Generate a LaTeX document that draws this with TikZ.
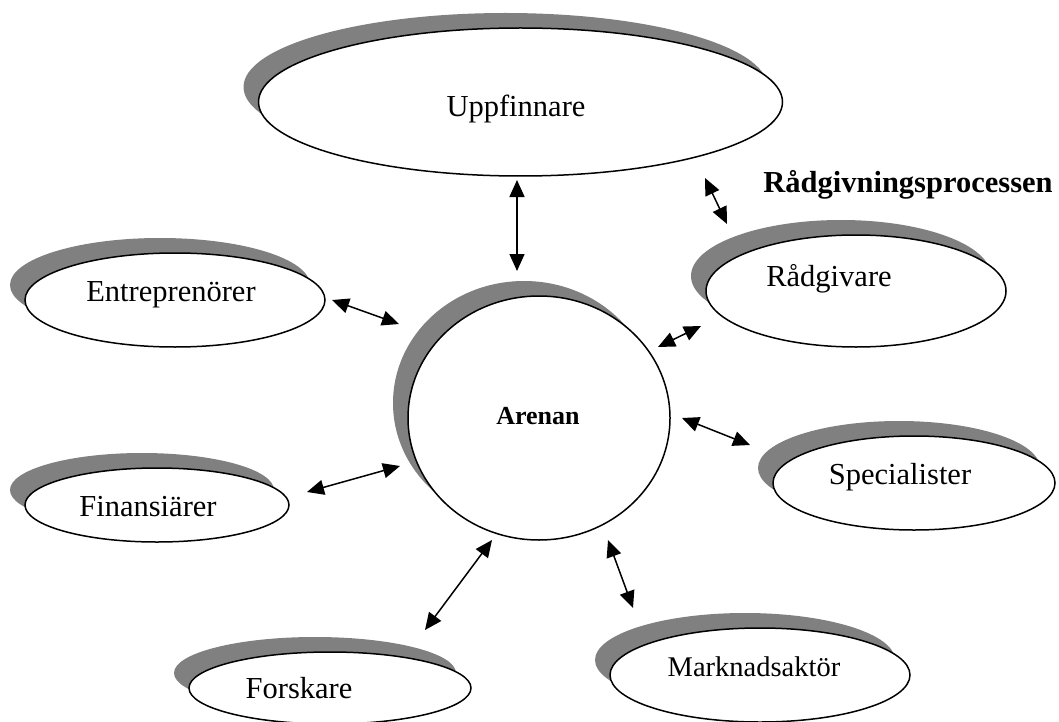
\documentclass[tikz,border=0pt]{standalone}
\usepackage{fontspec}
\setmainfont{Liberation Serif}
\usetikzlibrary{shapes.geometric,shadows,arrows.meta}
\begin{document}
\begin{tikzpicture}[x=1pt,y=-1pt,
  oval/.style={ellipse, draw, line width=1.5pt, fill=white, inner sep=0pt,
    drop shadow={shadow xshift=-15pt, shadow yshift=15pt, fill=black!50, opacity=1, draw=none}},
  lbl/.style={font=\fontsize{30.5}{36}\selectfont, inner sep=0pt},
  link/.style={line width=1.5pt, {Triangle[length=17pt,width=15pt]}-{Triangle[length=17pt,width=15pt]}}]
\useasboundingbox (0,0) rectangle (1059,722);

% ovals
\node[oval, minimum width=524pt, minimum height=148pt] (upp) at (520.5,102) {};
\node[oval, minimum width=262pt, minimum height=244pt] (arena) at (539,418) {};
\node[oval, minimum width=300pt, minimum height=112pt] (rad) at (856,291) {};
\node[oval, minimum width=300pt, minimum height=94pt] (entr) at (175,300) {};
\node[oval, minimum width=264pt, minimum height=74pt] (fin) at (157,505) {};
\node[oval, minimum width=282pt, minimum height=94pt] (spec) at (914,483) {};
\node[oval, minimum width=300pt, minimum height=94pt] (mark) at (760,675) {};
\node[oval, minimum width=282pt, minimum height=72pt] (fors) at (330,688) {};

% texts
\node[lbl] (uppT) at (516,109) {Uppfinnare};
\node[lbl, font=\fontsize{26}{30}\selectfont\bfseries] (arenaT) at (538,416) {Arenan};
\node[lbl] (radT) at (829,279) {Rådgivare};
\node[lbl] (entrT) at (171,295) {Entreprenörer};
\node[lbl] (finT) at (148,507) {Finansiärer};
\node[lbl] (specT) at (900,477) {Specialister};
\node[lbl, font=\fontsize{28.5}{34}\selectfont] (markT) at (754,667) {Marknadsaktör};
\node[lbl] (forsT) at (299,688) {Forskare};
\node[lbl, font=\fontsize{30.5}{36}\selectfont\bfseries] (procT) at (908,185) {Rådgivningsprocessen};

% connector ends
\coordinate (uppA) at (517,180);   \coordinate (arenaU) at (517,271);
\coordinate (uppR) at (705,178);   \coordinate (radU) at (727,224);
\coordinate (entrA) at (332,300);  \coordinate (arenaE) at (399,324);
\coordinate (finA) at (307,492);   \coordinate (arenaF) at (400,466);
\coordinate (forsA) at (425,630);  \coordinate (arenaFo) at (492,540);
\coordinate (markA) at (633,608);  \coordinate (arenaM) at (608,540);
\coordinate (specA) at (750,445);  \coordinate (arenaS) at (682,418);
\coordinate (radA) at (701,326);   \coordinate (arenaR) at (658,347);

\draw[link] (uppA) -- (arenaU);
\draw[link] (uppR) -- (radU);
\draw[link] (entrA) -- (arenaE);
\draw[link] (finA) -- (arenaF);
\draw[link] (forsA) -- (arenaFo);
\draw[link] (markA) -- (arenaM);
\draw[link] (specA) -- (arenaS);
\draw[link] (radA) -- (arenaR);
\end{tikzpicture}
\end{document}
